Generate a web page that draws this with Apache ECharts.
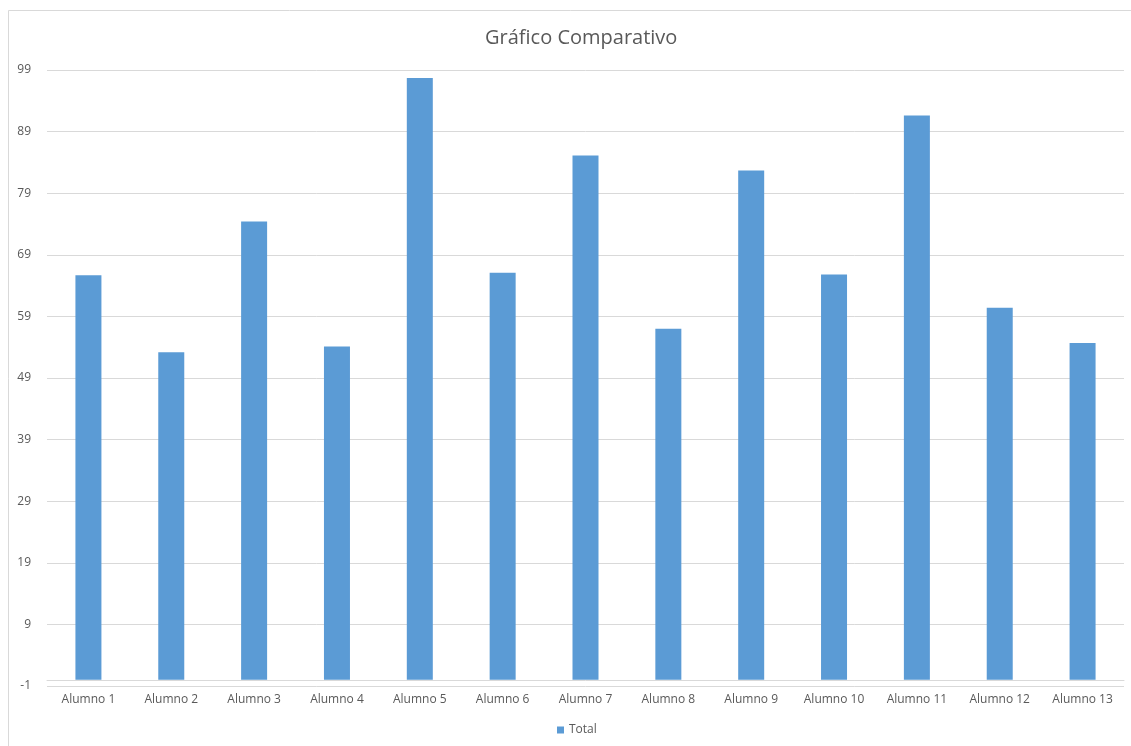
<!DOCTYPE html>
<html>
<head>
<meta charset="utf-8">
<script src="https://cdn.jsdelivr.net/npm/echarts@6/dist/echarts.min.js"></script>
<style>
html,body{margin:0;padding:0;background:#fff;}
#chart{width:1131px;height:746px;}
</style>
</head>
<body>
<div id="chart"></div>
<script>
var categories = ['Alumno 1','Alumno 2','Alumno 3','Alumno 4','Alumno 5','Alumno 6','Alumno 7','Alumno 8','Alumno 9','Alumno 10','Alumno 11','Alumno 12','Alumno 13'];
var totals = [65.7, 53.2, 74.4, 54.1, 97.7, 66.1, 85.1, 57.0, 82.7, 65.8, 91.6, 60.4, 54.7];
var seriesName = 'Total';
var chartTitle = 'Gráfico Comparativo';

var font = '"Open Sans", "Noto Sans", sans-serif';
var chart = echarts.init(document.getElementById('chart'));
chart.setOption({
  animation: false,
  backgroundColor: '#fff',
  textStyle: { fontFamily: font },
  graphic: [{
    type: 'rect', z: -1, silent: true,
    shape: { x: 8.5, y: 10.5, width: 1140, height: 760 },
    style: { fill: 'none', stroke: '#d9d9d9', lineWidth: 1 }
  }],
  title: {
    text: chartTitle, left: 480, top: 23,
    textStyle: { fontFamily: font, fontSize: 20, fontWeight: 'normal', color: '#595959' }
  },
  legend: {
    data: [seriesName], bottom: 5, left: 552,
    icon: 'rect', itemWidth: 7, itemHeight: 7, itemGap: 4,
    textStyle: { fontFamily: font, fontSize: 12, color: '#595959' }
  },
  grid: { left: 47, right: 7, top: 70, bottom: 60, containLabel: false },
  xAxis: {
    type: 'category', data: categories,
    axisLine: { onZero: true, lineStyle: { color: '#d9d9d9' } },
    axisTick: { show: false },
    axisLabel: { fontFamily: font, fontSize: 12, color: '#595959', margin: 8, interval: 0 },
    splitLine: { show: false }
  },
  yAxis: {
    type: 'value', min: -1, max: 99, interval: 10,
    axisLine: { show: false }, axisTick: { show: false },
    axisLabel: { fontFamily: font, fontSize: 12, color: '#595959', margin: 16 },
    splitLine: { lineStyle: { color: '#d9d9d9', width: 1 } }
  },
  series: [{
    name: seriesName, type: 'bar', data: totals,
    barWidth: 26,
    itemStyle: { color: '#5b9bd5' }
  }]
});
</script>
</body>
</html>
